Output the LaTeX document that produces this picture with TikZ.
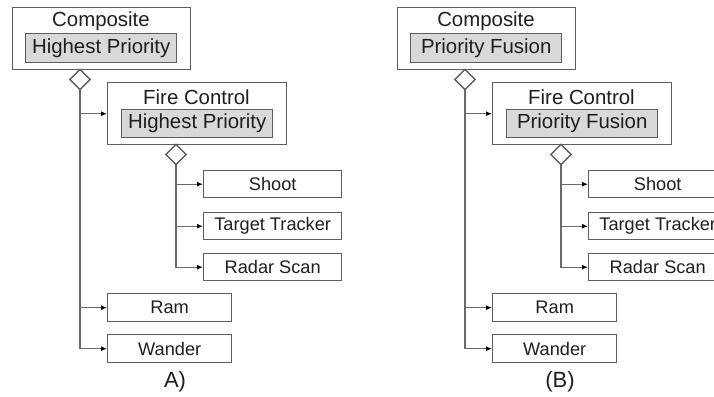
\documentclass[tikz,border=0pt]{standalone}
\usepackage{fontspec}
\setmainfont{Liberation Sans}
\usetikzlibrary{shapes.geometric,arrows.meta}
\definecolor{bordergray}{HTML}{5E5E5E}
\definecolor{fillgray}{HTML}{D9D9D9}
\definecolor{linegray}{HTML}{6A6A6A}
\definecolor{txt}{HTML}{1E1E1E}
\tikzset{
  box/.style={draw=bordergray, line width=1.4pt, rectangle, inner sep=0pt, anchor=north west, text=txt},
  leaf/.style={box, font=\fontsize{18.2}{22}\selectfont},
  graybox/.style={box, fill=fillgray},
  lbl/.style={text=txt, inner sep=0pt},
  dia/.style={diamond, draw=bordergray, line width=1.4pt, fill=white, minimum width=21pt, minimum height=21pt, inner sep=0pt},
  conn/.style={draw=linegray, line width=1.4pt, -{Latex[length=6pt,width=5pt,color=black]}},
}
\newcommand{\mypanel}[2]{%
  \node[box, minimum width=178pt, minimum height=62pt] (comp) at (12,7) {};
  \node[lbl] (comptitle) at (101,21) {Composite};
  \node[graybox, minimum width=151pt, minimum height=29pt] (compin) at (25,33) {#1};
  \node[box, minimum width=179pt, minimum height=62pt] (fc) at (107,82) {};
  \node[lbl] (fctitle) at (196.5,97) {Fire Control};
  \node[graybox, minimum width=151pt, minimum height=28pt] (fcin) at (121,109) {#1};
  \node[leaf, minimum width=138pt, minimum height=27pt] (shoot) at (203,170) {Shoot};
  \node[leaf, minimum width=138pt, minimum height=27pt] (tt) at (203,212) {Target Tracker};
  \node[leaf, minimum width=138pt, minimum height=27pt] (rs) at (203,253) {Radar Scan};
  \node[leaf, minimum width=124pt, minimum height=28pt] (ram) at (107,293) {Ram};
  \node[leaf, minimum width=124pt, minimum height=28pt] (wander) at (107,334) {Wander};
  \node[lbl, font=\fontsize{22}{26}\selectfont] (cap) at (175,382) {#2};
  \coordinate (d1c) at (80,79.5);
  \coordinate (d2c) at (176,154.5);
  \draw[conn] (d1c) |- (fc.west);
  \draw[conn] (d1c) |- (ram.west);
  \draw[conn] (d1c) |- (wander.west);
  \draw[conn] (d2c) |- (shoot.west);
  \draw[conn] (d2c) |- (tt.west);
  \draw[conn] (d2c) |- (rs.west);
  \node[dia] (d1) at (d1c) {};
  \node[dia] (d2) at (d2c) {};
}
\begin{document}
\begin{tikzpicture}[x=1pt, y=-1pt, font=\fontsize{20.4}{24}\selectfont]
\useasboundingbox (0,0) rectangle (714,396);
\clip (0,0) rectangle (714,396);
\begin{scope}[name prefix=a-]
  \mypanel{Highest Priority}{A)}
\end{scope}
\begin{scope}[xshift=385pt, name prefix=b-]
  \mypanel{Priority Fusion}{(B)}
\end{scope}
\end{tikzpicture}
\end{document}
